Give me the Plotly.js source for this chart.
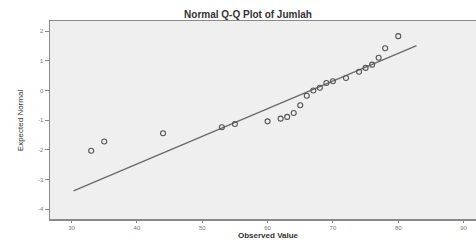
<!DOCTYPE html>
<html>
<head>
<meta charset="utf-8">
<script src="https://cdn.plot.ly/plotly-3.0.1.min.js"></script>
<style>html,body{margin:0;padding:0;background:#fff;}#chart{width:476px;height:240px;}</style>
</head>
<body>
<div id="chart"></div>
<script>
var observed = [33, 35, 44, 53, 55, 60, 62, 63, 64, 65, 66, 67, 68, 69, 70, 72, 74, 75, 76, 77, 78, 80];
var expected = [-2.03, -1.72, -1.44, -1.24, -1.13, -1.04, -0.95, -0.89, -0.76, -0.50, -0.18, 0.0, 0.09, 0.25, 0.31, 0.42, 0.63, 0.76, 0.87, 1.10, 1.42, 1.83];
// Reference line end points
var lineX = [30.3, 82.8];
var lineY = [-3.38, 1.51];
var xTicks = [30, 40, 50, 60, 70, 80, 90];
var yTicks = [2, 1, 0, -1, -2, -3, -4];
var yTickText = ["2", "1", "0", "-1", "-2", "-3", "-4"];

var traces = [
  {x: lineX, y: lineY, mode: 'lines', type: 'scatter',
   line: {color: '#6a6a6a', width: 1.4}, hoverinfo: 'skip'},
  {x: observed, y: expected, mode: 'markers', type: 'scatter',
   marker: {symbol: 'circle-open', size: 5, color: '#555', line: {width: 1.1, color: '#555'}}}
];
var axFont = {family: 'Arial, Liberation Sans, sans-serif', size: 6, color: '#777'};
var layout = {
  width: 476, height: 240,
  margin: {l: 50, r: 0, t: 21, b: 21},
  paper_bgcolor: '#ffffff',
  plot_bgcolor: '#efefef',
  showlegend: false,
  title: {text: '<b>Normal Q-Q Plot of Jumlah</b>', xref: 'container', x: 0.521, xanchor: 'center',
          yref: 'container', y: 0.94, yanchor: 'middle',
          font: {family: 'Arial, Liberation Sans, sans-serif', size: 10, color: '#333'}},
  xaxis: {range: [26.7, 91.9], tickvals: xTicks, ticks: 'outside', ticklen: 2, tickcolor: '#888',
          tickfont: axFont, showgrid: false, zeroline: false, showline: true, mirror: true,
          linecolor: '#8a8a8a', linewidth: 1.5},
  yaxis: {range: [-4.33, 2.34], tickvals: yTicks, ticktext: yTickText, ticks: 'outside', ticklen: 4,
          tickcolor: '#888', tickfont: axFont, showgrid: false, zeroline: false, showline: true,
          mirror: true, linecolor: '#8a8a8a', linewidth: 1.5},
  annotations: [
    {text: '<b>Observed Value</b>', xref: 'paper', yref: 'paper', x: (268 - 50) / 426, y: (219 - 235) / 198,
     xanchor: 'center', yanchor: 'middle', showarrow: false,
     font: {family: 'Arial, Liberation Sans, sans-serif', size: 8, color: '#333'}},
    {text: 'Expected Normal', xref: 'paper', yref: 'paper', x: -0.07, y: (219 - 120) / 198,
     xanchor: 'center', yanchor: 'middle', textangle: -90, showarrow: false,
     font: {family: 'Liberation Sans Narrow, Arial Narrow, sans-serif', size: 8, color: '#333'}}
  ]
};
Plotly.newPlot('chart', traces, layout, {displayModeBar: false, staticPlot: true});
</script>
</body>
</html>
